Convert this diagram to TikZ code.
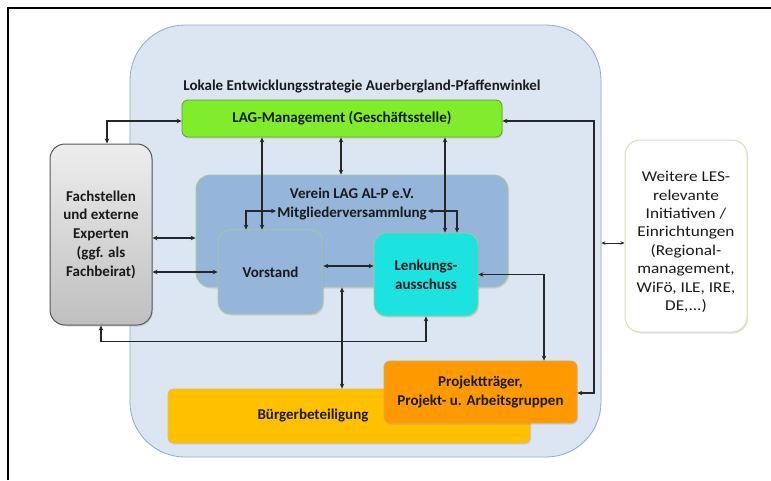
\documentclass[tikz,border=0pt]{standalone}
\usepackage{fontspec}
\setmainfont{Carlito}
\newfontfamily\weitfont[FakeStretch=1.15]{Carlito}
\usetikzlibrary{arrows.meta,shadows}
\definecolor{bigfill}{HTML}{DCE6F2}
\definecolor{bigdraw}{HTML}{8EA9CF}
\definecolor{lagfill}{HTML}{80EC2C}
\definecolor{lagdraw}{HTML}{5E9E2A}
\definecolor{vfill}{HTML}{95B6DA}
\definecolor{vdraw}{HTML}{A9C994}
\definecolor{lfill}{HTML}{1DE3E0}
\definecolor{bfill}{HTML}{FFC000}
\definecolor{bdraw}{HTML}{E8B850}
\definecolor{pfill}{HTML}{FF9900}
\definecolor{pdraw}{HTML}{D9A75E}
\definecolor{wdraw}{HTML}{D6E0B4}
\definecolor{arrcol}{HTML}{262626}
\definecolor{txtcol}{HTML}{1A1A1A}
\tikzset{
  bx/.style={rounded corners=#1, align=center, inner sep=0pt, text=txtcol,
    font=\fontsize{15}{18.8}\selectfont\bfseries,
    drop shadow={opacity=0.22, shadow xshift=1pt, shadow yshift=-1.5pt}},
  bx/.default=6pt,
  txt/.style={align=center, inner sep=1pt, text=txtcol, font=\fontsize{15}{18.5}\selectfont\bfseries},
  arr/.style={{Stealth[length=5pt,width=4.5pt]}-{Stealth[length=5pt,width=4.5pt]}, line width=1.3pt, draw=arrcol},
  arrs/.style={{Stealth[length=4pt,width=3.5pt]}-{Stealth[length=4pt,width=3.5pt]}, line width=0.9pt, draw=arrcol},
}
\begin{document}
\begin{tikzpicture}[x=1pt,y=-1pt]
\useasboundingbox (0,0) rectangle (771,480);
\fill[white] (0,0) rectangle (771,480);
% frame
\draw[line width=2pt, black] (7.5,480) -- (7.5,7.5) -- (771,7.5);
% big container
\node[draw=bigdraw, fill=bigfill, rounded corners=55pt, line width=0.8pt,
  minimum width=471, minimum height=432, inner sep=0pt] (big) at (365.5,241) {};
\node[txt] (title) at (362,86) {Lokale Entwicklungsstrategie Auerbergland-Pfaffenwinkel};
% boxes
\node[bx, draw=lagdraw, fill=lagfill, line width=0.8pt, minimum width=320, minimum height=37] (lag) at (342,118.5) {LAG-Management (Geschäftsstelle)};
\node[bx=14pt, draw=vdraw, fill=vfill, line width=0.8pt, minimum width=312, minimum height=112] (verein) at (352,231) {};
\node[txt] (vtxt) at (352,204) {Verein LAG AL-P e.V.\\Mitgliederversammlung};
\node[bx=12pt, draw=vdraw, fill=vfill, line width=0.8pt, minimum width=105, minimum height=84] (vorstand) at (270.5,272) {Vorstand};
\node[bx=12pt, draw=vdraw, fill=lfill, line width=0.8pt, minimum width=104, minimum height=83] (lenk) at (426,274.5) {Lenkungs-\\ausschuss};
\node[bx=15pt, draw=black!65, top color=black!7, bottom color=black!25, line width=1pt, minimum width=102, minimum height=181] (fach) at (101,234.5) {Fachstellen\\und externe\\Experten\\(ggf. als\\Fachbeirat)};
\node[bx=15pt, draw=wdraw, fill=white, line width=1pt, minimum width=122, minimum height=192] (weit) at (686,236) {};
\node[txt, font=\fontsize{15}{18.4}\weitfont] (wtxt) at (686,242) {Weitere LES-\\relevante\\Initiativen /\\Einrichtungen\\(Regional-\\management,\\WiFö, ILE, IRE,\\DE,...)};
\node[bx=5pt, draw=bdraw, fill=bfill, line width=0.8pt, minimum width=362, minimum height=54] (buerger) at (349,416) {};
\node[txt] (btxt) at (313,415) {Bürgerbeteiligung};
\node[bx=6pt, draw=pdraw, fill=pfill, line width=0.8pt, minimum width=193, minimum height=62] (projekt) at (480.5,392) {Projektträger,\\Projekt- u. Arbeitsgruppen};
% connectors
\coordinate (rr) at (594,0);
\draw[arr] (lag.west |- 0,121) -| (fach.north -| 107,0);
\draw[arr] (fach.south) -- ++(0,16) -| (lenk.south);
\draw[arr] (fach.east |- 0,238) -- (verein.west |- 0,238);
\draw[arr] (fach.east |- 0,272) -- (vorstand.west);
\draw[arr] (vorstand.east |- 0,266) -- (lenk.west |- 0,266);
\draw[arr] (lag.south -| 262,0) -- (vorstand.north -| 262,0);
\draw[arr] (lag.south -| 341,0) -- (verein.north -| 341,0);
\draw[arr] (lag.south -| 445,0) -- (lenk.north -| 445,0);
\draw[arr] (vtxt.west |- 0,211) -| (vorstand.north -| 246,0);
\draw[arr] (vtxt.east |- 0,211) -| (lenk.north -| 457,0);
\draw[arr] (verein.south -| 342,0) -- (buerger.north -| 342,0);
\draw[arr] (lenk.east) -| (projekt.north -| 544,0);
\draw[arr] (lag.east |- 0,121) -- (rr |- 0,121) -- (rr |- 0,393) -- (projekt.east |- 0,393);
\draw[arrs] (big.east |- 0,243) -- (weit.west |- 0,243);
\end{tikzpicture}
\end{document}
